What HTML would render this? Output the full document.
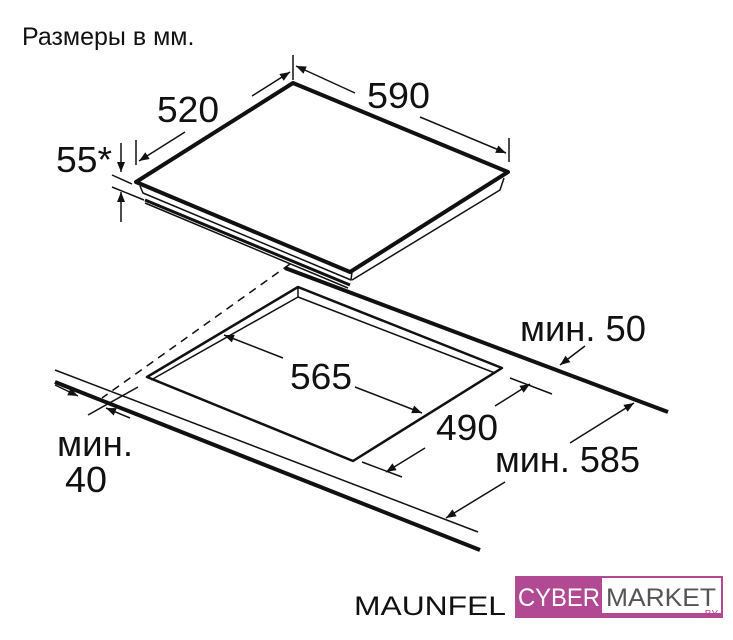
<!DOCTYPE html>
<html><head><meta charset="utf-8"><style>
html,body{margin:0;padding:0;background:#fff;}
svg{display:block;}
text{font-family:"Liberation Sans",sans-serif;fill:#111;}
</style></head><body>
<svg width="733" height="640" viewBox="0 0 733 640" xmlns="http://www.w3.org/2000/svg">
<defs>
<marker id="a" viewBox="0 0 10 10" refX="10" refY="5" markerWidth="14" markerHeight="10" markerUnits="userSpaceOnUse" orient="auto"><path d="M0,1 L10,5 L0,9 z" fill="#111"/></marker>
</defs>
<text x="22" y="45" font-size="25">Размеры в мм.</text>
<g stroke="#111" fill="none" stroke-linejoin="round">
<!-- hob -->
<path d="M293,83 L136,182 L350,272 L508,172 Z" stroke-width="4"/>
<path d="M140,186 L143,193 L351,280 L352,272" stroke-width="1.5"/>
<path d="M352,280 L500,190 L504,178" stroke-width="1.5"/>
<path d="M145,200 L350,285" stroke-width="3"/>
<path d="M145,203 L348,288" stroke-width="1.5"/>
<!-- top dims -->
<line x1="293" y1="55" x2="293" y2="80" stroke-width="1.5"/>
<line x1="136" y1="140" x2="136" y2="165" stroke-width="1.5"/>
<line x1="509" y1="138" x2="509" y2="162" stroke-width="1.5"/>
<line x1="252" y1="96" x2="290" y2="72" stroke-width="1.5" marker-end="url(#a)"/>
<line x1="185" y1="132" x2="139" y2="161" stroke-width="1.5" marker-end="url(#a)"/>
<line x1="355" y1="93" x2="296" y2="66" stroke-width="1.5" marker-end="url(#a)"/>
<line x1="420" y1="117" x2="506" y2="153" stroke-width="1.5" marker-end="url(#a)"/>
<line x1="121" y1="143" x2="121" y2="172" stroke-width="1.5" marker-end="url(#a)"/>
<line x1="121" y1="222" x2="121" y2="192" stroke-width="1.5" marker-end="url(#a)"/>
<line x1="112" y1="175" x2="132" y2="184" stroke-width="1.5"/>
<line x1="112" y1="187" x2="144" y2="200" stroke-width="1.5"/>
<!-- countertop -->
<path d="M285,268 L668,412" stroke-width="4"/>
<path d="M55,370 L478,532" stroke-width="1.5"/>
<path d="M55,382 L480,550" stroke-width="4"/>
<path d="M290,264 L102,398" stroke-width="1.5" stroke-dasharray="8,6"/>
<line x1="138" y1="387" x2="88" y2="415" stroke-width="1.5"/>
<!-- cutout -->
<path d="M298,287 L147,377 L353,461 L502,368 Z" stroke-width="2.5"/>
<path d="M298,287 L298,297 L151,380" stroke-width="1.5"/>
<path d="M298,297 L495,373" stroke-width="1.5"/>
<!-- 565 -->
<line x1="283" y1="358" x2="224" y2="335" stroke-width="1.5" marker-end="url(#a)"/>
<line x1="355" y1="387" x2="422" y2="413" stroke-width="1.5" marker-end="url(#a)"/>
<!-- 490 -->
<line x1="510" y1="378" x2="552" y2="394" stroke-width="1.5"/>
<line x1="362" y1="462" x2="402" y2="477" stroke-width="1.5"/>
<line x1="495" y1="406" x2="530" y2="384" stroke-width="1.5" marker-end="url(#a)"/>
<line x1="425" y1="448" x2="386" y2="472" stroke-width="1.5" marker-end="url(#a)"/>
<!-- 585 -->
<line x1="570" y1="443" x2="634" y2="403" stroke-width="1.5" marker-end="url(#a)"/>
<line x1="505" y1="482" x2="446" y2="518" stroke-width="1.5" marker-end="url(#a)"/>
<!-- 50 -->
<line x1="585" y1="346" x2="560" y2="365" stroke-width="1.5" marker-end="url(#a)"/>
<!-- 40 -->
<line x1="55" y1="385" x2="78" y2="396" stroke-width="1.5" marker-end="url(#a)"/>
<line x1="130" y1="418" x2="106" y2="408" stroke-width="1.5" marker-end="url(#a)"/>
</g>
<g font-size="36">
<text x="157" y="122" textLength="62" lengthAdjust="spacingAndGlyphs">520</text>
<text x="367" y="108" textLength="63" lengthAdjust="spacingAndGlyphs">590</text>
<text x="56" y="172" textLength="56" lengthAdjust="spacingAndGlyphs">55*</text>
<text x="290" y="389" textLength="62" lengthAdjust="spacingAndGlyphs">565</text>
<text x="436" y="440" textLength="62" lengthAdjust="spacingAndGlyphs">490</text>
<text x="520" y="341" textLength="126" lengthAdjust="spacingAndGlyphs">мин. 50</text>
<text x="495" y="472" textLength="145" lengthAdjust="spacingAndGlyphs">мин. 585</text>
<text x="57" y="456" textLength="76" lengthAdjust="spacingAndGlyphs">мин.</text>
<text x="65" y="492" textLength="42" lengthAdjust="spacingAndGlyphs">40</text>
</g>
<text x="354" y="615" font-size="27" textLength="152" lengthAdjust="spacingAndGlyphs">MAUNFEL</text>
<rect x="515" y="576" width="208" height="42" fill="#b14a93"/>
<rect x="602" y="578" width="119" height="35" fill="#fff"/>
<text x="518" y="606" font-size="25" style="fill:#fff" textLength="82" lengthAdjust="spacingAndGlyphs">CYBER</text>
<text x="606" y="606" font-size="25" style="fill:#555" textLength="110" lengthAdjust="spacingAndGlyphs">MARKET</text>
<text x="702" y="617" font-size="10" style="fill:#b14a93">.BY</text>
</svg>
</body></html>
